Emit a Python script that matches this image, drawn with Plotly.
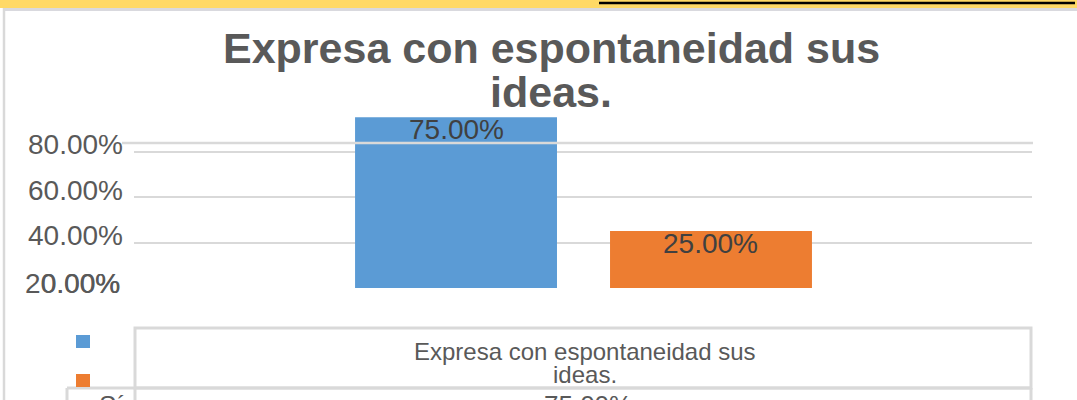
import plotly.graph_objects as go

# ---- data ----
series_names = ["Sí", "No"]
values = [75.0, 25.0]
bar_colors = ["#5B9BD5", "#ED7D31"]
title_line1 = "Expresa con espontaneidad sus"
title_line2 = "ideas."
grid_tickvals = [20, 40, 60]
grid_ticktext = ["40.00%", "60.00%", "80.00%"]
zero_labels = ["20.00%", "0.00%"]
table_header = ["Expresa con espontaneidad sus", "ideas."]
table_row = ["Sí", "75.00%"]

W, H = 1077, 400
def px(x):
    return x / W
def py(y):
    return 1 - y / H

FONT = "Liberation Sans, Arial, sans-serif"
GREY = "#D9D9D9"
TXT = "#595959"

fig = go.Figure()
fig.add_trace(go.Bar(
    x=series_names, y=values, marker=dict(color=bar_colors, line=dict(width=0)),
    width=0.792, showlegend=False, hoverinfo="skip",
))

dom_x = [px(134), px(1032)]
dom_y = [py(288), py(106)]

fig.update_layout(
    width=W, height=H, margin=dict(l=0, r=0, t=0, b=0),
    paper_bgcolor="white", plot_bgcolor="white",
    xaxis=dict(domain=dom_x, range=[-1.263, 2.259], showticklabels=False, showgrid=False,
               zeroline=False, showline=False, type="category", fixedrange=True),
    yaxis=dict(range=[0, 80], domain=dom_y, tickvals=grid_tickvals, ticktext=grid_ticktext,
               tickfont=dict(family=FONT, size=28, color=TXT), ticks="", ticklabelstandoff=10,
               ticklabelshift=-7, showline=False, showgrid=True, gridcolor=GREY, gridwidth=1.5,
               zeroline=False, fixedrange=True),
)

shapes = []
shapes.append(dict(type="rect", xref="paper", yref="paper", x0=0, x1=1, y0=py(8), y1=1,
                   fillcolor="#FFD966", line=dict(width=0), layer="above"))
shapes.append(dict(type="line", xref="paper", yref="paper", x0=px(599), x1=px(1075), y0=py(3), y1=py(3),
                   line=dict(color="black", width=2.5), layer="above"))
shapes.append(dict(type="line", xref="paper", yref="paper", x0=px(3), x1=1, y0=py(9.5), y1=py(9.5),
                   line=dict(color="#D9D9DE", width=3), layer="above"))
shapes.append(dict(type="line", xref="paper", yref="paper", x0=px(4), x1=px(4), y0=py(8), y1=0,
                   line=dict(color=GREY, width=2.5), layer="above"))
shapes.append(dict(type="line", xref="paper", yref="paper", x0=px(122), x1=px(1033), y0=py(143), y1=py(143),
                   line=dict(color=GREY, width=2.5), layer="above"))
shapes.append(dict(type="rect", xref="paper", yref="paper", x0=px(135), x1=px(1031), y0=py(388), y1=py(328),
                   line=dict(color=GREY, width=3), layer="above"))
shapes.append(dict(type="line", xref="paper", yref="paper", x0=px(67), x1=px(1031), y0=py(388), y1=py(388),
                   line=dict(color=GREY, width=3), layer="above"))
for xx in (67, 135, 1031):
    shapes.append(dict(type="line", xref="paper", yref="paper", x0=px(xx), x1=px(xx), y0=py(388), y1=0,
                       line=dict(color=GREY, width=3), layer="above"))
shapes.append(dict(type="rect", xref="paper", yref="paper", x0=px(76), x1=px(90), y0=py(348), y1=py(335),
                   fillcolor=bar_colors[0], line=dict(width=0), layer="above"))
shapes.append(dict(type="rect", xref="paper", yref="paper", x0=px(76), x1=px(90), y0=py(387), y1=py(374),
                   fillcolor=bar_colors[1], line=dict(width=0), layer="above"))
fig.update_layout(shapes=shapes)

ann = []
# bar value labels, placed from the data
for name, v in zip(series_names, values):
    ann.append(dict(text="%.2f%%" % v, x=name, y=v, xref="x", yref="y", xanchor="center",
                    yanchor="middle", yshift=-12, showarrow=False,
                    font=dict(family=FONT, size=28, color="#404040")))
# overlapping labels at the bottom of the axis
for lab in zero_labels:
    ann.append(dict(text=lab, x=px(122), y=0, xref="paper", yref="y", xanchor="right",
                    yanchor="middle", yshift=5, showarrow=False,
                    font=dict(family=FONT, size=28, color=TXT)))
ann.append(dict(text="<b>%s</b>" % title_line1, x=px(551), y=py(48), xref="paper", yref="paper",
                xanchor="center", yanchor="middle", showarrow=False,
                font=dict(family=FONT, size=43, color=TXT)))
ann.append(dict(text="<b>%s</b>" % title_line2, x=px(551), y=py(92), xref="paper", yref="paper",
                xanchor="center", yanchor="middle", showarrow=False,
                font=dict(family=FONT, size=43, color=TXT)))
ann.append(dict(text=table_header[0], x=px(585), y=py(351), xref="paper", yref="paper",
                xanchor="center", yanchor="middle", showarrow=False,
                font=dict(family=FONT, size=24, color=TXT)))
ann.append(dict(text=table_header[1], x=px(585), y=py(374), xref="paper", yref="paper",
                xanchor="center", yanchor="middle", showarrow=False,
                font=dict(family=FONT, size=24, color=TXT)))
ann.append(dict(text=table_row[0], x=px(112), y=py(405), xref="paper", yref="paper",
                xanchor="center", yanchor="middle", showarrow=False,
                font=dict(family=FONT, size=26, color=TXT)))
ann.append(dict(text=table_row[1], x=px(588), y=py(405), xref="paper", yref="paper",
                xanchor="center", yanchor="middle", showarrow=False,
                font=dict(family=FONT, size=26, color=TXT)))
fig.update_layout(annotations=ann)

fig.write_html("out.html")
